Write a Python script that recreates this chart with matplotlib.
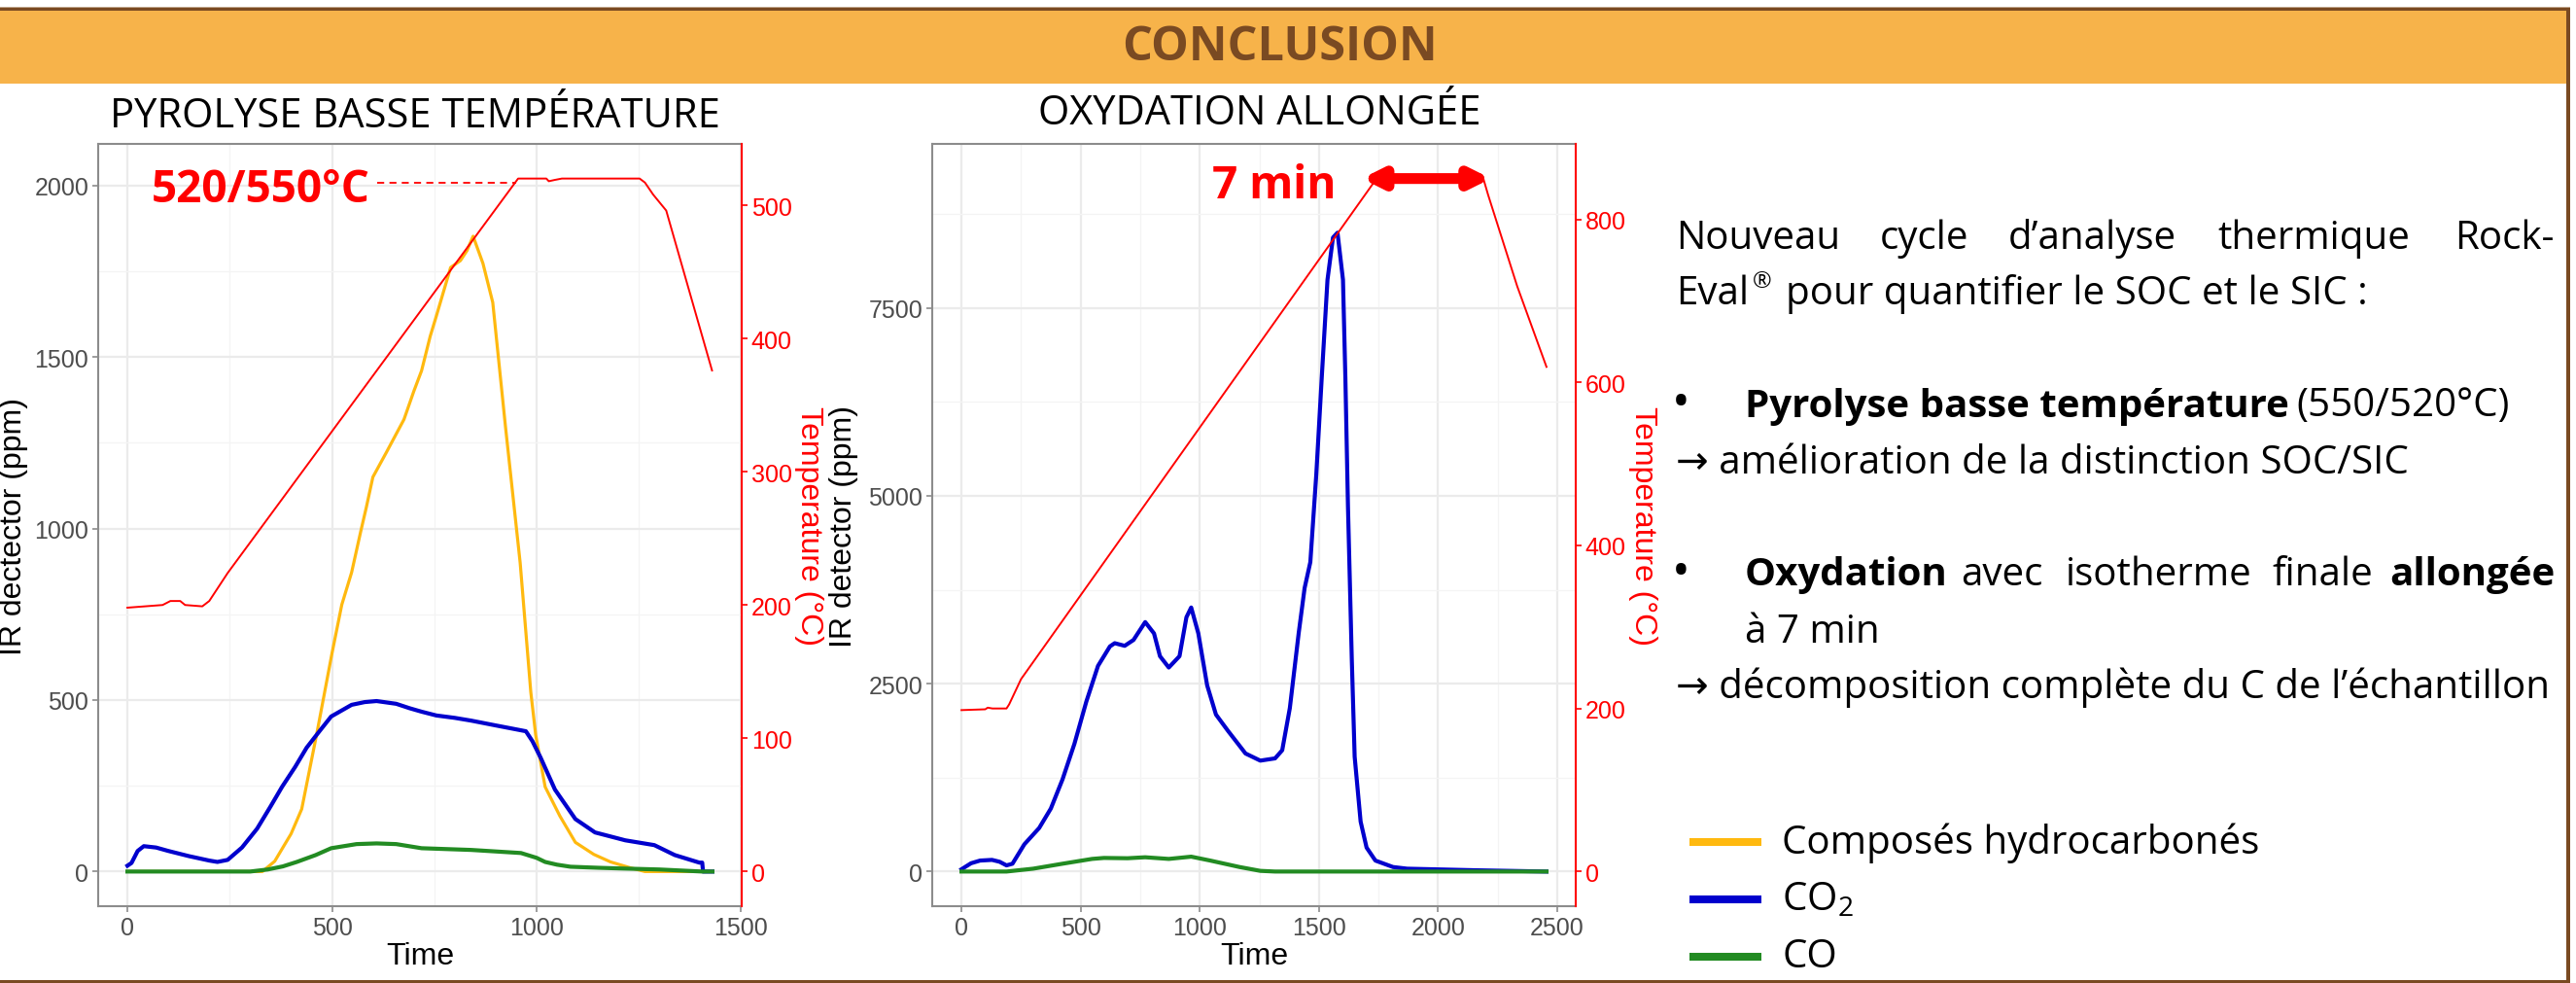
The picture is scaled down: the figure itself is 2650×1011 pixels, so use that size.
import matplotlib
matplotlib.use("Agg")
import matplotlib.pyplot as plt
from matplotlib import font_manager as fm
from matplotlib.lines import Line2D
from matplotlib.patches import Rectangle


def have_font(name):
    try:
        fm.findfont(fm.FontProperties(family=name), fallback_to_default=False)
        return True
    except Exception:
        return False


NARROW = "Liberation Sans Narrow" if have_font("Liberation Sans Narrow") else "Open Sans"
SANS = "Liberation Sans"
plt.rcParams["font.family"] = [NARROW, "DejaVu Sans"]
plt.rcParams["mathtext.fontset"] = "custom"
plt.rcParams["mathtext.rm"] = NARROW

# ---------------- data: pyrolyse basse temperature ----------------
pyro_t_temp = [0, 86, 105, 129, 141, 183, 200, 215, 245, 955, 1024, 1030, 1045,
               1062, 1252, 1265, 1285, 1317, 1429]
pyro_temp = [198, 200, 203, 203, 200, 199, 203, 210, 224, 520, 520, 518, 519,
             520, 520, 517, 508, 496, 376]

pyro_t_hc = [0, 330, 360, 400, 426, 464, 500, 524, 548, 570, 584, 600, 633, 650,
             676, 700, 719, 740, 755, 775, 790, 814, 830, 845, 869, 893, 924, 960,
             986, 998, 1021, 1057, 1095, 1140, 1181, 1229, 1265, 1430]
pyro_hc = [0, 0, 30, 110, 182, 409, 636, 778, 872, 990, 1062, 1150, 1222, 1260,
           1318, 1400, 1460, 1560, 1619, 1700, 1761, 1781, 1810, 1852, 1773, 1659,
           1298, 900, 523, 398, 247, 162, 85, 50, 28, 11, 0, 0]

pyro_t_co2 = [0, 10, 25, 40, 70, 100, 150, 200, 220, 245, 280, 317, 350, 378, 410,
              438, 470, 498, 548, 580, 609, 657, 690, 719, 755, 800, 840, 900, 974,
              990, 1010, 1045, 1095, 1143, 1217, 1288, 1338, 1398, 1405, 1407, 1430]
pyro_co2 = [17, 25, 60, 74, 70, 60, 45, 32, 28, 34, 70, 125, 190, 247, 305, 361,
            410, 452, 486, 494, 497, 489, 476, 466, 455, 448, 440, 426, 409, 380,
            332, 239, 153, 114, 91, 77, 48, 26, 26, 0, 0]

pyro_t_co = [0, 300, 343, 380, 414, 460, 498, 560, 609, 657, 719, 840, 962, 1000,
             1021, 1050, 1083, 1150, 1205, 1300, 1405, 1430]
pyro_co = [0, 0, 6, 15, 28, 48, 68, 80, 82, 80, 68, 63, 54, 40, 28, 20, 14, 11, 9,
           6, 0, 0]

# ---------------- data: oxydation allongee ----------------
oxy_t_temp = [0, 100, 110, 130, 189, 200, 250, 1742, 2190, 2210, 2332, 2455]
oxy_temp = [198, 199, 201, 200, 200, 205, 236, 850, 850, 830, 718, 619]

oxy_t_co2 = [0, 40, 78, 128, 160, 189, 214, 264, 326, 375, 424, 474, 524, 573, 623,
             643, 685, 722, 771, 808, 833, 870, 915, 944, 964, 994, 1031, 1068, 1118,
             1192, 1254, 1316, 1346, 1378, 1415, 1440, 1464, 1489, 1512, 1536, 1559,
             1578, 1601, 1611, 1622, 1638, 1650, 1675, 1700, 1737, 1811, 1870, 2158,
             2455]
oxy_co2 = [30, 110, 146, 155, 130, 82, 104, 363, 579, 838, 1226, 1700, 2262, 2737,
           2996, 3039, 3004, 3082, 3320, 3169, 2866, 2715, 2866, 3384, 3514, 3169,
           2478, 2089, 1874, 1571, 1476, 1506, 1614, 2176, 3169, 3773, 4118, 5285,
           6580, 7876, 8437, 8502, 7876, 6580, 4850, 2823, 1528, 665, 319, 146, 60,
           38, 17, 0]

oxy_t_co = [0, 189, 301, 424, 548, 598, 697, 771, 870, 964, 1044, 1167, 1254, 1316,
            2455]
oxy_co = [0, 0, 38, 104, 168, 181, 177, 190, 168, 198, 146, 60, 9, 0, 0]

C_HC = "#FFB90F"
C_CO2 = "#0000CD"
C_CO = "#228B22"
BROWN = "#7A4A22"
W, H = 2650, 1012


def fx(px):
    return px / W


def fy(py):
    return 1 - py / H


fig = plt.figure(figsize=(26.5, 10.12), dpi=100)
fig.patch.set_facecolor("white")

# frame + banner
fig.add_artist(Rectangle((0, fy(87)), fx(2640), (87 - 12) / H, transform=fig.transFigure,
                         facecolor="#F7B34A", edgecolor="none"))
fig.add_artist(Rectangle((0, fy(9)), fx(2644), 1 / H, transform=fig.transFigure,
                         facecolor="#BFA48A", edgecolor="none"))
fig.add_artist(Rectangle((0, fy(12)), fx(2644), 3 / H, transform=fig.transFigure,
                         facecolor=BROWN, edgecolor="none"))
fig.add_artist(Rectangle((fx(2640), 0), fx(4), fy(9), transform=fig.transFigure,
                         facecolor=BROWN, edgecolor="none"))
fig.add_artist(Rectangle((0, 0), fx(2644), 3 / H, transform=fig.transFigure,
                         facecolor=BROWN, edgecolor="none"))
fig.text(fx(1316), fy(49), "CONCLUSION", ha="center", va="center", fontsize=35,
         fontweight="bold", color=BROWN)


def minor_between(ticks, lo, hi):
    step = ticks[1] - ticks[0]
    cand = [ticks[0] - step / 2] + [t + step / 2 for t in ticks]
    return [c for c in cand if lo < c < hi]


def make_panel(left, tmax_ppm, temp_factor, xmax, xticks, yticks, tticks):
    ax = fig.add_axes([fx(left), fy(933), fx(662), 784 / H])
    lo, hi = -0.05 * tmax_ppm, 1.05 * tmax_ppm
    xlo, xhi = -0.05 * xmax, 1.05 * xmax
    ax.set_xticks(xticks)
    ax.set_yticks(yticks)
    ax.set_xticks(minor_between(xticks, xlo, xhi), minor=True)
    ax.set_yticks(minor_between(yticks, lo, hi), minor=True)
    ax.grid(which="major", color="#EBEBEB", lw=1.6)
    ax.grid(which="minor", color="#F4F4F4", lw=0.9)
    ax.set_axisbelow(True)
    for s in ("left", "bottom", "top"):
        ax.spines[s].set_color("#8C8C8C")
        ax.spines[s].set_linewidth(1.5)
    ax.spines["right"].set_visible(False)
    ax.tick_params(which="major", length=4, width=1.2, color="#8C8C8C", labelsize=18,
                   labelcolor="#4D4D4D", pad=3)
    ax.tick_params(which="minor", length=0)
    for lab in ax.get_xticklabels() + ax.get_yticklabels():
        lab.set_fontfamily(SANS)

    ax2 = ax.twinx()
    ax2.set_yticks(tticks)
    for s in ("left", "bottom", "top"):
        ax2.spines[s].set_visible(False)
    ax2.spines["right"].set_color("red")
    ax2.spines["right"].set_linewidth(1.5)
    ax2.tick_params(axis="y", length=4, width=1.2, color="red", labelsize=18,
                    labelcolor="red", pad=3)
    for lab in ax2.get_yticklabels():
        lab.set_fontfamily(SANS)
    ax2.set_ylabel("Temperature (°C)", color="red", fontsize=23, family=SANS,
                   rotation=270, ha="center", va="center")
    ax2.yaxis.set_label_coords(1.104, 0.5)
    ax.set_xlabel("Time", fontsize=23, family=SANS, color="black", va="center")
    ax.xaxis.set_label_coords(0.5, -0.065)
    lims = (xlo, xhi, lo, hi, lo / temp_factor, hi / temp_factor)
    return ax, ax2, lims


def fix_limits(ax, ax2, lims):
    ax.set_xlim(lims[0], lims[1])
    ax.set_ylim(lims[2], lims[3])
    ax2.set_ylim(lims[4], lims[5])


# ---- left panel
axL, axL2, limL = make_panel(101, 520 * 3.885, 3.885, 1430, [0, 500, 1000, 1500],
                             [0, 500, 1000, 1500, 2000], [0, 100, 200, 300, 400, 500])
axL.plot(pyro_t_hc, pyro_hc, color=C_HC, lw=2.3, zorder=3)
axL.plot(pyro_t_co2, pyro_co2, color=C_CO2, lw=3.0, zorder=4)
axL.plot(pyro_t_co, pyro_co, color=C_CO, lw=3.0, zorder=4)
axL2.plot(pyro_t_temp, pyro_temp, color="red", lw=1.4)
axL2.plot([610, 950], [517, 517], color="red", lw=1.3, ls=(0, (4, 3)))
axL.set_ylabel("IR dectector (ppm)", fontsize=23, family=SANS, ha="center", va="center")
axL.yaxis.set_label_coords(-0.131, 0.5)
fix_limits(axL, axL2, limL)
fig.text(fx(268), fy(195), "520/550°C", ha="center", va="center", fontsize=33,
         fontweight="bold", color="red")
fig.text(fx(427), fy(120), "PYROLYSE BASSE TEMPÉRATURE", ha="center", va="center",
         fontsize=30, color="black")

# ---- right panel
axR, axR2, limR = make_panel(959, 850 * 10.85, 10.85, 2455, [0, 500, 1000, 1500, 2000, 2500],
                             [0, 2500, 5000, 7500], [0, 200, 400, 600, 800])
axR.plot(oxy_t_co2, oxy_co2, color=C_CO2, lw=3.0, zorder=4)
axR.plot(oxy_t_co, oxy_co, color=C_CO, lw=3.0, zorder=4)
axR2.plot(oxy_t_temp, oxy_temp, color="red", lw=1.4)
axR2.annotate("", xy=(1680, 850), xytext=(2222, 850),
              arrowprops=dict(arrowstyle="<|-|>", color="red", lw=8,
                              mutation_scale=28, shrinkA=0, shrinkB=0))
axR.set_ylabel("IR detector (ppm)", fontsize=23, family=SANS, ha="center", va="center")
axR.yaxis.set_label_coords(-0.137, 0.5)
fix_limits(axR, axR2, limR)
fig.text(fx(1311), fy(192), "7 min", ha="center", va="center", fontsize=33,
         fontweight="bold", color="red")
fig.text(fx(1296), fy(117), "OXYDATION ALLONGÉE", ha="center", va="center",
         fontsize=30, color="black")

# ---- right text block
FS = 29


def word(x, y, s, bold=False, ha="left", size=FS):
    fig.text(fx(x), fy(y), s, ha=ha, va="center", fontsize=size,
             fontweight="bold" if bold else "normal", color="black")


word(1724, 246, "Nouveau")
word(1934, 246, "cycle")
word(2066, 246, "d’analyse")
word(2281, 246, "thermique")
word(2628, 246, "Rock-", ha="right")
word(1724, 303, "Eval")
word(1803, 290, "®", size=17)
word(1837, 303, "pour quantifier le SOC et le SIC :")
word(1720, 416, "•", size=36)
word(1795, 418, "Pyrolyse basse température", bold=True)
word(2362, 418, "(550/520°C)")
word(1724, 477, "→ amélioration de la distinction SOC/SIC")
word(1720, 590, "•", size=36)
word(1795, 592, "Oxydation", bold=True)
word(2017, 592, "avec")
word(2125, 592, "isotherme")
word(2337, 592, "finale")
word(2628, 592, "allongée", bold=True, ha="right")
word(1795, 651, "à 7 min")
word(1724, 707, "→ décomposition complète du C de l’échantillon")

# ---- legend
leg_labels = ["Composés hydrocarbonés", "CO$_2$", "CO"]
leg_colors = [C_HC, C_CO2, C_CO]
for i, (lab, col) in enumerate(zip(leg_labels, leg_colors)):
    yy = 867 + i * 59
    fig.add_artist(Line2D([fx(1738), fx(1812)], [fy(yy), fy(yy)], color=col, lw=5.8,
                          transform=fig.transFigure, solid_capstyle="butt"))
    word(1833, yy, lab)

fig.savefig("out.png", dpi=100)
